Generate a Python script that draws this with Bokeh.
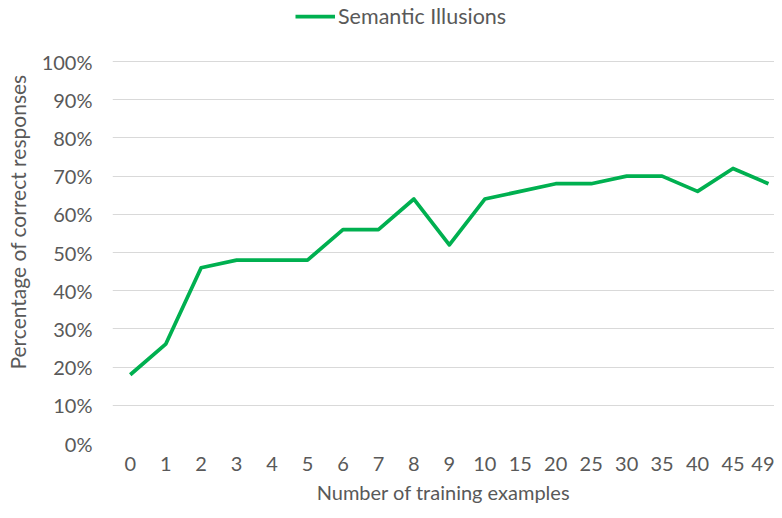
from bokeh.plotting import figure
from bokeh.models import Range1d, FixedTicker, NumeralTickFormatter, Legend, LegendItem, ColumnDataSource
from bokeh.embed import file_html
from bokeh.resources import INLINE

categories = ["0", "1", "2", "3", "4", "5", "6", "7", "8", "9", "10",
              "15", "20", "25", "30", "35", "40", "45", "49"]
semantic_illusions = [0.18, 0.26, 0.46, 0.48, 0.48, 0.48, 0.56, 0.56, 0.64, 0.52,
                      0.64, 0.66, 0.68, 0.68, 0.70, 0.70, 0.66, 0.72, 0.68]
y_ticks = [0.0, 0.1, 0.2, 0.3, 0.4, 0.5, 0.6, 0.7, 0.8, 0.9, 1.0]
x_title = "Number of training examples"
y_title = "Percentage of correct responses"
series_name = "Semantic Illusions"

FONT = "Lato"
TXT = "#595959"

idx = list(range(len(categories)))
src = ColumnDataSource(dict(x=idx, y=semantic_illusions))

# frame reaches the top of the canvas so the legend can sit above the 100% line
p = figure(width=774, height=510, output_backend="svg", toolbar_location=None,
           x_range=Range1d(-0.5, 18.17), y_range=Range1d(0, 1.1597),
           min_border_left=112, min_border_right=0, min_border_top=0, min_border_bottom=67)
p.outline_line_color = None
p.background_fill_color = "white"
p.border_fill_color = "white"

r = p.line("x", "y", source=src, line_color="#00B050", line_width=3.75, line_join="round")

p.xaxis.ticker = FixedTicker(ticks=idx)
p.xaxis.major_label_overrides = {i: c for i, c in zip(idx, categories)}
p.yaxis.ticker = FixedTicker(ticks=y_ticks)
p.yaxis.formatter = NumeralTickFormatter(format="0%")

for ax in (p.xaxis, p.yaxis):
    ax.axis_line_color = None
    ax.major_tick_line_color = None
    ax.minor_tick_line_color = None
    ax.major_tick_out = 0
    ax.major_tick_in = 0
    ax.minor_tick_out = 0
    ax.minor_tick_in = 0
    ax.major_label_text_font = FONT
    ax.major_label_text_font_size = "20px"
    ax.major_label_text_color = TXT
    ax.axis_label_text_font = FONT
    ax.axis_label_text_font_size = "20px"
    ax.axis_label_text_color = TXT
    ax.axis_label_text_font_style = "normal"

p.yaxis.axis_label_text_font_size = "21px"
p.xaxis.axis_label = x_title
p.yaxis.axis_label = y_title
p.xaxis.major_label_standoff = 13
p.yaxis.major_label_standoff = 20
p.xaxis.axis_label_standoff = 6
p.yaxis.axis_label_standoff = 9

p.xgrid.grid_line_color = None
p.ygrid.grid_line_color = "#D9D9D9"
p.ygrid.grid_line_width = 1

legend = Legend(items=[LegendItem(label=series_name, renderers=[r])],
                location=(183, 414), orientation="horizontal",
                label_text_font=FONT, label_text_font_size="21.5px", label_text_color=TXT,
                glyph_width=40, glyph_height=20, label_standoff=3, padding=0, margin=0,
                border_line_color=None, background_fill_alpha=0)
p.add_layout(legend, "center")

open("out.html", "w").write(file_html(p, INLINE))
